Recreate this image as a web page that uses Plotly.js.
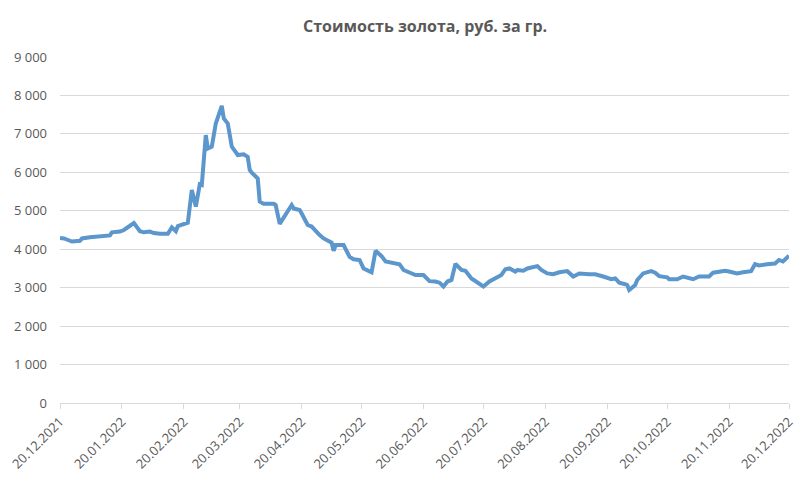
<!DOCTYPE html>
<html>
<head>
<meta charset="utf-8">
<script src="https://cdn.plot.ly/plotly-3.0.1.min.js"></script>
<style>
  html, body { margin: 0; padding: 0; background: #fff; }
  #chart { width: 799px; height: 488px; }
</style>
</head>
<body>
<div id="chart"></div>
<script>
"use strict";

const dates = [
    "2021-12-20", "2021-12-22", "2021-12-24", "2021-12-26", "2021-12-30",
    "2021-12-31", "2022-01-04", "2022-01-09", "2022-01-14", "2022-01-15",
    "2022-01-19", "2022-01-21", "2022-01-24", "2022-01-26", "2022-01-29",
    "2022-01-31", "2022-02-03", "2022-02-05", "2022-02-08", "2022-02-12",
    "2022-02-14", "2022-02-16", "2022-02-17", "2022-02-22", "2022-02-24",
    "2022-02-26", "2022-02-28", "2022-03-01", "2022-03-03", "2022-03-04",
    "2022-03-06", "2022-03-08", "2022-03-11", "2022-03-12", "2022-03-14",
    "2022-03-16", "2022-03-19", "2022-03-22", "2022-03-24", "2022-03-25",
    "2022-03-26", "2022-03-29", "2022-03-30", "2022-04-01", "2022-04-06",
    "2022-04-07", "2022-04-09", "2022-04-12", "2022-04-15", "2022-04-16",
    "2022-04-19", "2022-04-20", "2022-04-23", "2022-04-25", "2022-04-27",
    "2022-04-29", "2022-05-01", "2022-05-05", "2022-05-06", "2022-05-07",
    "2022-05-11", "2022-05-14", "2022-05-16", "2022-05-19", "2022-05-21",
    "2022-05-25", "2022-05-27", "2022-05-30", "2022-06-01", "2022-06-03",
    "2022-06-05", "2022-06-08", "2022-06-10", "2022-06-14", "2022-06-16",
    "2022-06-20", "2022-06-23", "2022-06-26", "2022-06-28", "2022-06-30",
    "2022-07-02", "2022-07-04", "2022-07-06", "2022-07-09", "2022-07-11",
    "2022-07-14", "2022-07-17", "2022-07-20", "2022-07-23", "2022-07-26",
    "2022-07-29", "2022-07-31", "2022-08-02", "2022-08-05", "2022-08-06",
    "2022-08-09", "2022-08-11", "2022-08-16", "2022-08-18", "2022-08-21",
    "2022-08-24", "2022-08-27", "2022-08-31", "2022-09-03", "2022-09-06",
    "2022-09-11", "2022-09-14", "2022-09-18", "2022-09-22", "2022-09-24",
    "2022-09-26", "2022-09-29", "2022-09-30", "2022-10-01", "2022-10-04",
    "2022-10-05", "2022-10-08", "2022-10-12", "2022-10-14", "2022-10-16",
    "2022-10-20", "2022-10-21", "2022-10-25", "2022-10-28", "2022-10-31",
    "2022-11-02", "2022-11-05", "2022-11-09", "2022-11-10", "2022-11-12",
    "2022-11-15", "2022-11-18", "2022-11-20", "2022-11-24", "2022-11-27",
    "2022-12-01", "2022-12-03", "2022-12-05", "2022-12-09", "2022-12-13",
    "2022-12-15", "2022-12-17", "2022-12-20"
];

const prices = [
    4290, 4280, 4240, 4200, 4220,
    4280, 4310, 4340, 4360, 4440,
    4460, 4500, 4600, 4680, 4470,
    4440, 4460, 4420, 4400, 4400,
    4570, 4470, 4600, 4690, 5540,
    5110, 5690, 5670, 6970, 6620,
    6670, 7270, 7730, 7400, 7270,
    6670, 6450, 6470, 6400, 6060,
    5990, 5840, 5240, 5180, 5180,
    5150, 4660, 4930, 5150, 5060,
    5020, 4930, 4630, 4590, 4460,
    4370, 4280, 4170, 3960, 4110,
    4110, 3800, 3740, 3720, 3500,
    3400, 3960, 3820, 3680, 3660,
    3650, 3610, 3460, 3370, 3330,
    3330, 3170, 3160, 3130, 3030,
    3160, 3200, 3620, 3460, 3440,
    3240, 3130, 3030, 3160, 3240,
    3330, 3480, 3500, 3420, 3460,
    3440, 3500, 3560, 3460, 3370,
    3350, 3400, 3430, 3290, 3370,
    3350, 3350, 3290, 3220, 3240,
    3130, 3090, 3070, 2940, 3070,
    3200, 3370, 3430, 3390, 3300,
    3270, 3220, 3220, 3290, 3260,
    3220, 3290, 3300, 3290, 3390,
    3420, 3440, 3420, 3370, 3400,
    3430, 3610, 3580, 3610, 3630,
    3720, 3680, 3830
];

const tickDates = [
    "2021-12-20", "2022-01-20", "2022-02-20", "2022-03-20",
    "2022-04-20", "2022-05-20", "2022-06-20", "2022-07-20",
    "2022-08-20", "2022-09-20", "2022-10-20", "2022-11-20",
    "2022-12-20"
];

const tickLabels = [
    "20.12.2021", "20.01.2022", "20.02.2022", "20.03.2022",
    "20.04.2022", "20.05.2022", "20.06.2022", "20.07.2022",
    "20.08.2022", "20.09.2022", "20.10.2022", "20.11.2022",
    "20.12.2022"
];

const textColor = "#595959";
const gridColor = "#d9d9d9";

Plotly.newPlot(
    "chart",
    [{
        type: "scatter",
        mode: "lines",
        x: dates,
        y: prices,
        line: {
            color: "#5b96cc",
            width: 4,
        },
        hoverinfo: "x+y",
    }],
    {
        width: 799,
        height: 488,
        separators: ", ",
        title: {
            text: "<b>Стоимость золота, руб. за гр.</b>",
            x: 0.532,
            xanchor: "center",
            y: 0.945,
            yanchor: "middle",
            font: {
                family: "Open Sans, sans-serif",
                size: 16,
                color: textColor,
            },
        },
        margin: {
            t: 57,
            r: 10,
            b: 85,
            l: 60,
        },
        showlegend: false,
        paper_bgcolor: "#ffffff",
        plot_bgcolor: "#ffffff",
        font: {
            family: "Open Sans, sans-serif",
            size: 13,
            color: textColor,
        },
        xaxis: {
            type: "date",
            range: ["2021-12-20", "2022-12-20"],
            tickvals: tickDates,
            ticktext: tickLabels,
            tickangle: -45,
            showgrid: false,
            zeroline: false,
            showline: true,
            linecolor: gridColor,
            linewidth: 1,
            ticks: "outside",
            ticklen: 5,
            tickcolor: gridColor,
            tickfont: {
                size: 13,
                color: textColor,
            },
        },
        yaxis: {
            range: [0, 9000],
            dtick: 1000,
            tick0: 0,
            tickformat: ",d",
            showgrid: true,
            gridcolor: gridColor,
            gridwidth: 1,
            zeroline: false,
            showline: false,
            ticks: "",
            ticklabelstandoff: 12,
            tickfont: {
                size: 13,
                color: textColor,
            },
        },
    },
    {
        displayModeBar: false,
        responsive: false,
    }
);
</script>
</body>
</html>
